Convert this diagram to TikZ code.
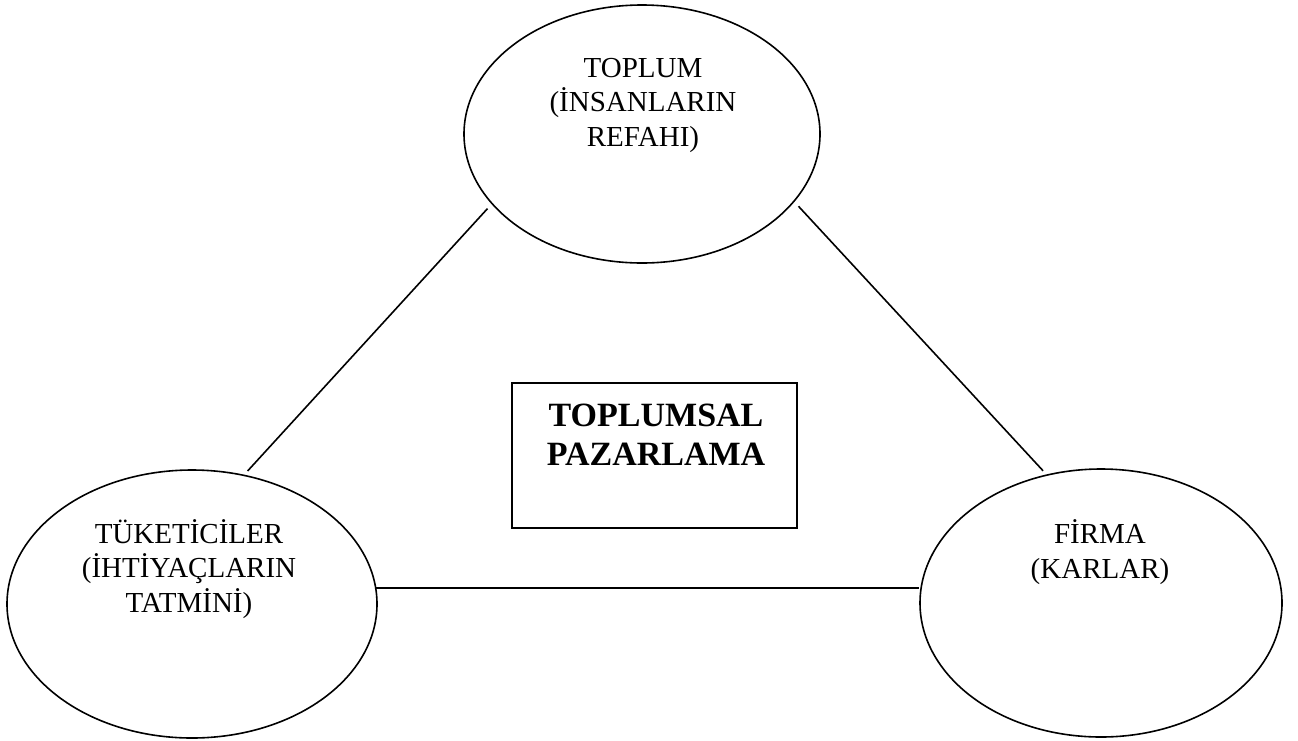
\documentclass[tikz,border=0pt]{standalone}
\usepackage{fontspec}
\setmainfont{Liberation Serif}
\usetikzlibrary{shapes.geometric}
\begin{document}
\begin{tikzpicture}[x=1pt,y=-1pt,
  oval/.style={draw, ellipse, line width=1.6pt, inner sep=0pt},
  lbl/.style={align=center, font=\fontsize{29}{34.5}\selectfont, inner sep=0pt},
  ttl/.style={align=center, font=\fontsize{34}{39}\selectfont\bfseries, inner sep=0pt},
  framebox/.style={draw, line width=1.6pt, inner sep=0pt},
  link/.style={line width=1.6pt}]
\useasboundingbox (0,0) rectangle (1298,740);
\fill[white] (0,0) rectangle (1298,740);
\node[oval, minimum width=356pt, minimum height=258pt] (top) at (642,134) {};
\node[oval, minimum width=370pt, minimum height=268pt] (left) at (192,604) {};
\node[oval, minimum width=362pt, minimum height=268pt] (right) at (1101,603) {};
\node[framebox, minimum width=285pt, minimum height=145pt] (box) at (654.5,455.5) {};
\node[lbl, anchor=base] (toptxt) at (643,146) {TOPLUM\\(İNSANLARIN\\REFAHI)};
\node[lbl, anchor=base] (lefttxt) at (189,612) {TÜKETİCİLER\\(İHTİYAÇLARIN\\TATMİNİ)};
\node[lbl, anchor=base] (righttxt) at (1100,578) {FİRMA\\(KARLAR)};
\node[ttl, anchor=base] (boxtxt) at (656,465) {TOPLUMSAL\\PAZARLAMA};
\draw[link, shorten <=6pt, shorten >=5pt] (top.205.1) -- (left.68);
\draw[link, shorten <=6pt, shorten >=5pt] (top.336.1) -- (right.113.3);
\draw[link] (left.5.6) -- (left.5.6 -| right.west);
\end{tikzpicture}
\end{document}
